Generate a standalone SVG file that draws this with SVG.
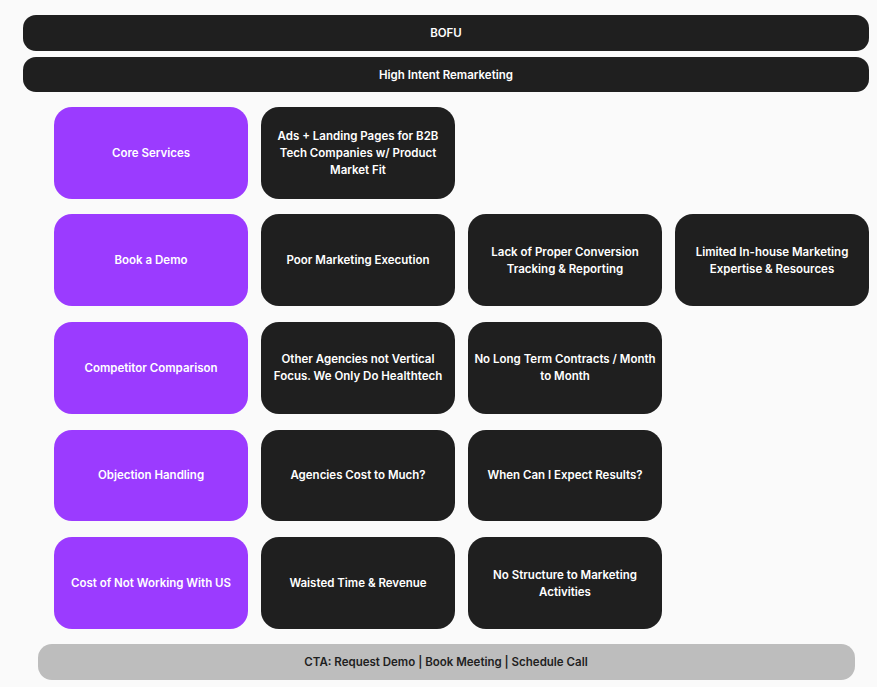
<svg xmlns="http://www.w3.org/2000/svg" width="877" height="687" viewBox="0 0 877 687">
<style>
.bar{fill:#1f1f1f}
.p{fill:#9b3bff}
.b{fill:#1f1f1f}
text{font-family:Inter,"Liberation Sans",sans-serif;font-size:11.5px;font-weight:600;fill:#fff;text-anchor:middle}
.d{fill:#1f1f1f}
</style>
<rect width="877" height="687" fill="#fafafa"/>
<g id="bofu"><rect class="bar" x="23" y="15" width="846" height="36" rx="13"/><text x="446" y="37">BOFU</text></g>
<g id="hir"><rect class="bar" x="23" y="57" width="846" height="35" rx="13"/><text x="446" y="79">High Intent Remarketing</text></g>
<g id="core"><rect class="p" x="54" y="107" width="194" height="92" rx="18"/><text x="151" y="157">Core Services</text></g>
<g id="ads"><rect class="b" x="261" y="107" width="194" height="92" rx="18"/><text x="358" y="140">Ads + Landing Pages for B2B</text><text x="358" y="157">Tech Companies w/ Product</text><text x="358" y="174">Market Fit</text></g>
<g id="demo"><rect class="p" x="54" y="214" width="194" height="92" rx="18"/><text x="151" y="264">Book a Demo</text></g>
<g id="poor"><rect class="b" x="261" y="214" width="194" height="92" rx="18"/><text x="358" y="264">Poor Marketing Execution</text></g>
<g id="lack"><rect class="b" x="468" y="214" width="194" height="92" rx="18"/><text x="565" y="256">Lack of Proper Conversion</text><text x="565" y="273">Tracking &amp; Reporting</text></g>
<g id="limited"><rect class="b" x="675" y="214" width="194" height="92" rx="18"/><text x="772" y="256">Limited In-house Marketing</text><text x="772" y="273">Expertise &amp; Resources</text></g>
<g id="comp"><rect class="p" x="54" y="322" width="194" height="92" rx="18"/><text x="151" y="372">Competitor Comparison</text></g>
<g id="other"><rect class="b" x="261" y="322" width="194" height="92" rx="18"/><text x="358" y="363">Other Agencies not Vertical</text><text x="358" y="380">Focus. We Only Do Healthtech</text></g>
<g id="nolong"><rect class="b" x="468" y="322" width="194" height="92" rx="18"/><text x="565" y="363">No Long Term Contracts / Month</text><text x="565" y="380">to Month</text></g>
<g id="obj"><rect class="p" x="54" y="430" width="194" height="91" rx="18"/><text x="151" y="479">Objection Handling</text></g>
<g id="cost"><rect class="b" x="261" y="430" width="194" height="91" rx="18"/><text x="358" y="479">Agencies Cost to Much?</text></g>
<g id="when"><rect class="b" x="468" y="430" width="194" height="91" rx="18"/><text x="565" y="479">When Can I Expect Results?</text></g>
<g id="notwork"><rect class="p" x="54" y="537" width="194" height="92" rx="18"/><text x="151" y="587">Cost of Not Working With US</text></g>
<g id="waste"><rect class="b" x="261" y="537" width="194" height="92" rx="18"/><text x="358" y="587">Waisted Time &amp; Revenue</text></g>
<g id="nostruct"><rect class="b" x="468" y="537" width="194" height="92" rx="18"/><text x="565" y="579">No Structure to Marketing</text><text x="565" y="596">Activities</text></g>
<g id="cta"><rect x="38" y="644" width="817" height="36" rx="14" fill="#bdbdbd"/><text x="446" y="666" class="d">CTA: Request Demo | Book Meeting | Schedule Call</text></g>
<g id="connectors"></g>
</svg>
